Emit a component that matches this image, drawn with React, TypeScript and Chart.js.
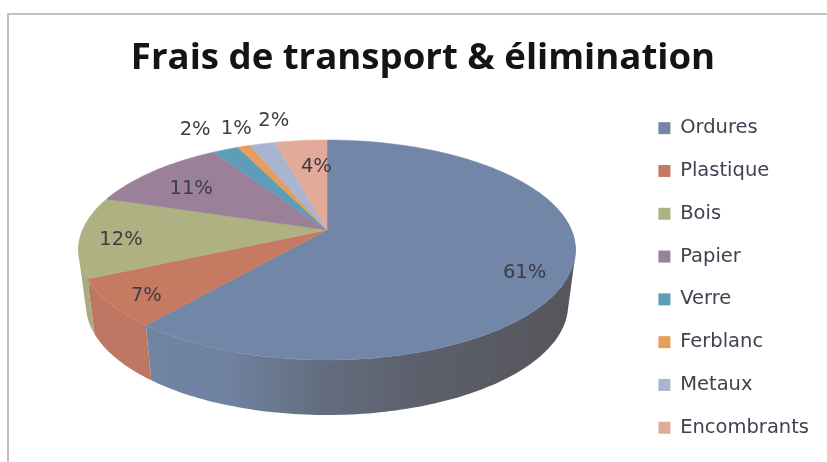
import React, { useEffect, useRef } from "react";
import { Chart, registerables } from "chart.js";

Chart.register(...registerables);

const titleText = "Frais de transport & élimination";
const categories = ["Ordures", "Plastique", "Bois", "Papier", "Verre", "Ferblanc", "Metaux", "Encombrants"];
const shares = [61, 7, 12, 11, 2, 1, 2, 4];
const topColors = ["#7287A8", "#C67A62", "#AEB182", "#9B8099", "#5E9DB8", "#E59E5C", "#A9B4D0", "#E2AA98"];
const labelRadii = [0.843, 0.865, 0.834, 0.728, 1.31, 1.23, 1.287, 0.666];
const labelTurns = [7, -2, -2.5, -3, -1, 2, 6, 3];

// Camera: the disc is seen in perspective, so its centre sits above the middle of the ellipse.
const cam = { cx: 327, cy: 250, c: 244.4, a: 110, b: -20, k: -0.1818, depth: 55, lowerX: 0.97 };
const SHADE = [86, 85, 91];

const rgb = (h: string) => [1, 3, 5].map((i) => parseInt(h.slice(i, i + 2), 16));
const mix = (h: string, f: number) => {
  const c = rgb(h);
  return `rgb(${c.map((v, i) => Math.round(v + (SHADE[i] - v) * f)).join(",")})`;
};

const disc = (ang: number, r = 1) => {
  const u = Math.cos(ang) * r;
  const v = Math.sin(ang) * r;
  const w = 1 + cam.k * v;
  return { x: (cam.c * u) / w, y: (cam.a * v + cam.b) / w };
};
const samples = (s: number, e: number) => {
  const n = Math.max(2, Math.ceil((e - s) / 0.02));
  return Array.from({ length: n + 1 }, (_, i) => s + ((e - s) * i) / n);
};
const rimTop = (a: number) => {
  const p = disc(a);
  return [cam.cx + p.x, cam.cy + p.y];
};
const rimLow = (a: number) => {
  const p = disc(a);
  return [cam.cx + p.x * cam.lowerX, cam.cy + p.y + cam.depth];
};

const pie3d = {
  id: "pie3d",
  beforeDatasetsDraw(chart: any) {
    const { ctx } = chart;
    const arcs = chart.getDatasetMeta(0).data;
    ctx.save();
    // walls of the front half: one quad per sampled step, so the silhouette is their envelope
    arcs.forEach((el: any, i: number) => {
      const s = Math.max(el.startAngle, -0.4);
      const e = Math.min(el.endAngle, Math.PI + 0.4);
      if (e <= s) return;
      const pts = samples(s, e);
      const g = ctx.createLinearGradient(cam.cx - 250, 0, cam.cx + 250, 0);
      const col = topColors[i];
      [[0, 0.07], [0.14, 0.07], [0.3, 0.1], [0.5, 0.55], [0.7, 0.8], [1, 1]].forEach(([p, f]) =>
        g.addColorStop(p, mix(col, f))
      );
      ctx.fillStyle = g;
      ctx.beginPath();
      for (let j = 0; j < pts.length - 1; j++) {
        let q = [rimTop(pts[j]), rimTop(pts[j + 1]), rimLow(pts[j + 1]), rimLow(pts[j])];
        const area = q.reduce((acc, c, k) => {
          const d = q[(k + 1) % 4];
          return acc + c[0] * d[1] - d[0] * c[1];
        }, 0);
        if (area < 0) q = q.reverse();
        q.forEach((c, k) => (k === 0 ? ctx.moveTo(c[0], c[1]) : ctx.lineTo(c[0], c[1])));
        ctx.closePath();
      }
      ctx.fill();
    });
    // top face
    arcs.forEach((el: any, i: number) => {
      const apex = disc(0, 0);
      ctx.fillStyle = topColors[i];
      ctx.strokeStyle = topColors[i];
      ctx.lineWidth = 0.5;
      ctx.beginPath();
      ctx.moveTo(cam.cx + apex.x, cam.cy + apex.y);
      samples(el.startAngle, el.endAngle).forEach((a) => {
        const p = disc(a);
        ctx.lineTo(cam.cx + p.x, cam.cy + p.y);
      });
      ctx.closePath();
      ctx.fill();
      ctx.stroke();
    });
    // percentage labels
    ctx.font = "19.5px 'DejaVu Sans'";
    ctx.fillStyle = "#3c3c44";
    ctx.textAlign = "center";
    ctx.textBaseline = "middle";
    arcs.forEach((el: any, i: number) => {
      const mid = (el.startAngle + el.endAngle) / 2 + (labelTurns[i] * Math.PI) / 180;
      const p = disc(mid, labelRadii[i]);
      ctx.fillText(`${shares[i]}%`, cam.cx + p.x, cam.cy + p.y);
    });
    ctx.restore();
    return false;
  },
};

export default function App() {
  const ref = useRef<HTMLCanvasElement>(null);
  useEffect(() => {
    const chart = new Chart(ref.current!, {
      type: "pie",
      data: {
        labels: categories,
        datasets: [{ data: shares, backgroundColor: topColors, borderWidth: 0 }],
      },
      options: {
        responsive: false,
        animation: false,
        layout: { padding: { left: 27, right: 8 } },
        plugins: {
          title: {
            display: true,
            text: titleText,
            color: "#141418",
            font: { family: "'Open Sans'", size: 36.6, weight: "bold" },
            padding: { top: 37, bottom: 13 },
          },
          legend: {
            position: "right",
            fullSize: false,
            labels: {
              boxWidth: 12,
              boxHeight: 12,
              padding: 23.3,
              color: "#3f4250",
              font: { family: "'DejaVu Sans'", size: 19.5 },
            },
          },
          tooltip: { enabled: false },
        },
      },
      plugins: [pie3d],
    } as any);
    return () => chart.destroy();
  }, []);
  return (
    <div style={{ position: "relative", width: 827, height: 462, overflow: "hidden", background: "#fff" }}>
      <style>{"body{margin:0}"}</style>
      <div
        style={{
          position: "absolute",
          left: 7,
          top: 13,
          right: -4,
          bottom: -4,
          borderLeft: "2px solid #c4c0bc",
          borderTop: "2px solid #c4c0bc",
        }}
      />
      <canvas ref={ref} width={827} height={462} style={{ position: "absolute", left: 0, top: 0, filter: "blur(0.5px)" }} />
    </div>
  );
}
